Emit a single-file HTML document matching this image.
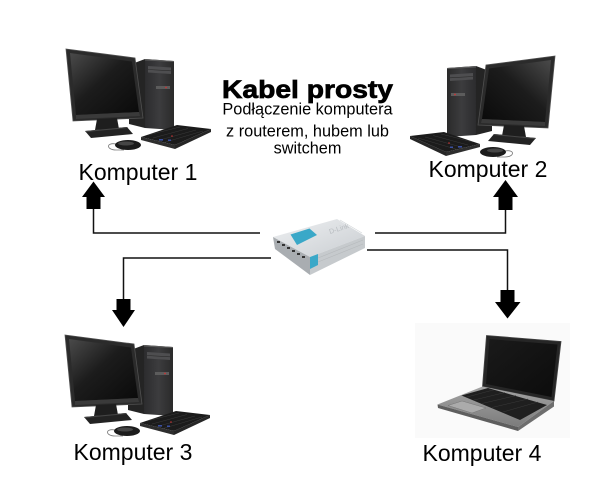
<!DOCTYPE html>
<html>
<head>
<meta charset="utf-8">
<style>
  html, body { margin:0; padding:0; background:#ffffff; }
  svg { display:block; }
  text { font-family: "Liberation Sans", Arial, sans-serif; fill:#000; }
</style>
</head>
<body>
<svg width="600" height="500" viewBox="0 0 600 500" xmlns="http://www.w3.org/2000/svg">
  <defs>
    <linearGradient id="scr" x1="0" y1="0" x2="1" y2="1">
      <stop offset="0" stop-color="#4a4a4a"/>
      <stop offset="0.45" stop-color="#1c1c1c"/>
      <stop offset="1" stop-color="#0a0a0a"/>
    </linearGradient>
    <linearGradient id="tw" x1="0" y1="0" x2="1" y2="0">
      <stop offset="0" stop-color="#2c2c2e"/>
      <stop offset="0.5" stop-color="#3c3c3e"/>
      <stop offset="1" stop-color="#2a2a2a"/>
    </linearGradient>
    <linearGradient id="lapscr" x1="0" y1="0" x2="1" y2="1">
      <stop offset="0" stop-color="#1a1a1a"/>
      <stop offset="1" stop-color="#0c0c0c"/>
    </linearGradient>
    <linearGradient id="lapbase" x1="0" y1="0" x2="0" y2="1">
      <stop offset="0" stop-color="#a4a4a4"/>
      <stop offset="1" stop-color="#7c7c7c"/>
    </linearGradient>
    <linearGradient id="swtop" x1="0" y1="0" x2="1" y2="1">
      <stop offset="0" stop-color="#eef0f2"/>
      <stop offset="1" stop-color="#c9cdd1"/>
    </linearGradient>
  </defs>

  <!-- ===== Computer 1 ===== -->
  <g id="pc1">
    <!-- tower side -->
    <polygon points="129,65 145,59 145,128 129,124" fill="#242424"/>
    <!-- tower front -->
    <polygon points="145,59 174,61 174,130 145,128" fill="url(#tw)"/>
    <polygon points="145,59 174,61 174,62 145,60.5" fill="#5a5a5a"/>
    <polygon points="148,66 171,67.5 171,74 148,72.5" fill="#4e4e50"/>
    <line x1="148" y1="69.5" x2="171" y2="70.8" stroke="#2a2a2a" stroke-width="0.6"/>
    <rect x="156" y="86" width="14" height="3" fill="#5c5c5c"/>
    <circle cx="166" cy="87.5" r="0.9" fill="#cc3333"/>
    <!-- monitor -->
    <polygon points="66,49 135,58 143,118 73,121" fill="#2b2b2b" stroke="#505050" stroke-width="0.8"/>
    <polygon points="70,53 132,61.5 139,112 76,115" fill="url(#scr)"/>
    <polygon points="76,115 139,112 140,116 76,119" fill="#3a3a3a"/>
    <!-- stand -->
    <polygon points="97,119 117,118 119,129 95,130" fill="#1e1e1e"/>
    <polygon points="85,131 127,127 133,134 91,138" fill="#232323"/>
    <polygon points="85,131 127,127 128,128 86,132" fill="#444"/>
    <!-- mouse -->
    <path d="M116,144 C106,142 106,150 116,150 L124,150" stroke="#777" fill="none" stroke-width="0.8"/>
    <ellipse cx="128" cy="145" rx="13" ry="5" fill="#1c1c1c"/>
    <ellipse cx="126" cy="143.5" rx="8" ry="2" fill="#454545"/>
    <!-- keyboard -->
    <polygon points="141,137 177,125 211,129 175,145" fill="#1b1b1b"/>
    <polygon points="141,137 175,145 175,149 141,140" fill="#2e2e2e"/>
    <polygon points="175,145 211,129 211,132 175,149" fill="#262626"/>
    <g stroke="#3a3a3a" stroke-width="0.5">
      <line x1="148" y1="135" x2="180" y2="127"/>
      <line x1="153" y1="138" x2="188" y2="128.5"/>
      <line x1="158" y1="140.5" x2="196" y2="130"/>
      <line x1="164" y1="142.5" x2="203" y2="131"/>
    </g>
    <rect x="159" y="139" width="4" height="1.6" fill="#3a4fa0"/>
    <rect x="168" y="139.5" width="3" height="1.5" fill="#3a4fa0"/>
    <circle cx="172" cy="136" r="0.8" fill="#c33"/>
  </g>

  <!-- ===== Computer 2 (mirrored) ===== -->
  <g transform="translate(621,7) scale(-1,1)">
    <polygon points="129,65 145,59 145,128 129,124" fill="#242424"/>
    <polygon points="145,59 174,61 174,130 145,128" fill="url(#tw)"/>
    <polygon points="145,59 174,61 174,62 145,60.5" fill="#5a5a5a"/>
    <polygon points="148,66 171,67.5 171,74 148,72.5" fill="#4e4e50"/>
    <line x1="148" y1="69.5" x2="171" y2="70.8" stroke="#2a2a2a" stroke-width="0.6"/>
    <rect x="156" y="86" width="14" height="3" fill="#5c5c5c"/>
    <circle cx="166" cy="87.5" r="0.9" fill="#cc3333"/>
    <polygon points="66,49 135,58 143,118 73,121" fill="#2b2b2b" stroke="#505050" stroke-width="0.8"/>
    <polygon points="70,53 132,61.5 139,112 76,115" fill="url(#scr)"/>
    <polygon points="76,115 139,112 140,116 76,119" fill="#3a3a3a"/>
    <polygon points="97,119 117,118 119,129 95,130" fill="#1e1e1e"/>
    <polygon points="85,131 127,127 133,134 91,138" fill="#232323"/>
    <polygon points="85,131 127,127 128,128 86,132" fill="#444"/>
    <path d="M116,144 C106,142 106,150 116,150 L124,150" stroke="#777" fill="none" stroke-width="0.8"/>
    <ellipse cx="128" cy="145" rx="13" ry="5" fill="#1c1c1c"/>
    <ellipse cx="126" cy="143.5" rx="8" ry="2" fill="#454545"/>
    <polygon points="141,137 177,125 211,129 175,145" fill="#1b1b1b"/>
    <polygon points="141,137 175,145 175,149 141,140" fill="#2e2e2e"/>
    <polygon points="175,145 211,129 211,132 175,149" fill="#262626"/>
    <g stroke="#3a3a3a" stroke-width="0.5">
      <line x1="148" y1="135" x2="180" y2="127"/>
      <line x1="153" y1="138" x2="188" y2="128.5"/>
      <line x1="158" y1="140.5" x2="196" y2="130"/>
      <line x1="164" y1="142.5" x2="203" y2="131"/>
    </g>
    <rect x="159" y="139" width="4" height="1.6" fill="#3a4fa0"/>
    <rect x="168" y="139.5" width="3" height="1.5" fill="#3a4fa0"/>
    <circle cx="172" cy="136" r="0.8" fill="#c33"/>
  </g>

  <!-- ===== Computer 3 ===== -->
  <g transform="translate(-1,286)">
    <polygon points="129,65 145,59 145,128 129,124" fill="#242424"/>
    <polygon points="145,59 174,61 174,130 145,128" fill="url(#tw)"/>
    <polygon points="145,59 174,61 174,62 145,60.5" fill="#5a5a5a"/>
    <polygon points="148,66 171,67.5 171,74 148,72.5" fill="#4e4e50"/>
    <line x1="148" y1="69.5" x2="171" y2="70.8" stroke="#2a2a2a" stroke-width="0.6"/>
    <rect x="156" y="86" width="14" height="3" fill="#5c5c5c"/>
    <circle cx="166" cy="87.5" r="0.9" fill="#cc3333"/>
    <polygon points="66,49 135,58 143,118 73,121" fill="#2b2b2b" stroke="#505050" stroke-width="0.8"/>
    <polygon points="70,53 132,61.5 139,112 76,115" fill="url(#scr)"/>
    <polygon points="76,115 139,112 140,116 76,119" fill="#3a3a3a"/>
    <polygon points="97,119 117,118 119,129 95,130" fill="#1e1e1e"/>
    <polygon points="85,131 127,127 133,134 91,138" fill="#232323"/>
    <polygon points="85,131 127,127 128,128 86,132" fill="#444"/>
    <path d="M116,144 C106,142 106,150 116,150 L124,150" stroke="#777" fill="none" stroke-width="0.8"/>
    <ellipse cx="128" cy="145" rx="13" ry="5" fill="#1c1c1c"/>
    <ellipse cx="126" cy="143.5" rx="8" ry="2" fill="#454545"/>
    <polygon points="141,137 177,125 211,129 175,145" fill="#1b1b1b"/>
    <polygon points="141,137 175,145 175,149 141,140" fill="#2e2e2e"/>
    <polygon points="175,145 211,129 211,132 175,149" fill="#262626"/>
    <g stroke="#3a3a3a" stroke-width="0.5">
      <line x1="148" y1="135" x2="180" y2="127"/>
      <line x1="153" y1="138" x2="188" y2="128.5"/>
      <line x1="158" y1="140.5" x2="196" y2="130"/>
      <line x1="164" y1="142.5" x2="203" y2="131"/>
    </g>
    <rect x="159" y="139" width="4" height="1.6" fill="#3a4fa0"/>
    <rect x="168" y="139.5" width="3" height="1.5" fill="#3a4fa0"/>
    <circle cx="172" cy="136" r="0.8" fill="#c33"/>
  </g>

  <!-- ===== Laptop (Computer 4) ===== -->
  <rect x="415" y="323" width="155" height="115" fill="#fafafa"/>
  <polygon points="486.5,335.5 561,341.5 554,401 482.5,386.5" fill="#262626" stroke="#444" stroke-width="0.8"/>
  <polygon points="489.5,339 557.5,344.5 551.5,397 486,384" fill="url(#lapscr)"/>
  <polygon points="482.5,386.5 554,401 518,427 437.5,404.5" fill="url(#lapbase)"/>
  <polygon points="437.5,404.5 518,427 518,431 438,408" fill="#5e5e5e"/>
  <polygon points="518,427 554,401 554,406.5 518,431" fill="#6e6e6e"/>
  <polygon points="461.5,395.5 488,388 547,405 520,420" fill="#1f1f1f"/>
  <g stroke="#3a3a3a" stroke-width="0.5">
    <line x1="467" y1="397" x2="494" y2="389.8"/>
    <line x1="474" y1="400" x2="505" y2="392.5"/>
    <line x1="482" y1="403.5" x2="516" y2="395.6"/>
    <line x1="492" y1="407.5" x2="528" y2="399"/>
    <line x1="503" y1="412" x2="538" y2="402"/>
  </g>
  <polygon points="448,405.5 462,401 486,408 472,413" fill="#ababab" stroke="#777" stroke-width="0.5"/>

  <!-- ===== Switch ===== -->
  <polygon points="273,237 337,219 365,236 310,257" fill="url(#swtop)"/>
  <polygon points="273,237 310,257 310,275 275,249" fill="#a9adb1"/>
  <polygon points="310,257 365,236 365,248 310,275" fill="#c6cacd"/>
  <g stroke="#b5b9bc" stroke-width="0.6">
    <line x1="318" y1="258" x2="363" y2="240"/>
    <line x1="318" y1="262" x2="363" y2="244"/>
  </g>
  <polygon points="290.5,234.5 309.5,228.5 317,235 297,245" fill="#3aa8c8"/>
  <polygon points="310,257 318,254 318,265 310,269" fill="#3aa8c8"/>
  <g fill="#333">
    <rect x="277" y="241" width="3" height="2"/>
    <rect x="282" y="244" width="3" height="2"/>
    <rect x="287" y="247" width="3" height="2"/>
    <rect x="292" y="250" width="3" height="2"/>
    <rect x="297" y="253" width="3" height="2"/>
    <rect x="302" y="256" width="3" height="2"/>
  </g>
  <text x="330" y="234" font-size="7" fill="#b8bcc0" style="fill:#b8bcc0" transform="rotate(-18 330 234)">D-Link</text>
  <g stroke="#d0d4d7" stroke-width="0.6">
    <line x1="340" y1="220" x2="362" y2="233"/>
  </g>

  <!-- ===== Connectors ===== -->
  <g fill="none" stroke="#111" stroke-width="1.5">
    <polyline points="93.5,209 93.5,233 260,233"/>
    <polyline points="375,233 505.5,233 505.5,210"/>
    <polyline points="271,258 123.5,258 123.5,299"/>
    <polyline points="367,250 507.5,250 507.5,290"/>
  </g>

  <!-- ===== Arrows ===== -->
  <polygon points="93.5,181.5 105,197 100.5,197 100.5,209 86.5,209 86.5,197 82,197" fill="#000"/>
  <polygon points="505.5,180 518,197 512.5,197 512.5,210 498.5,210 498.5,197 493,197" fill="#000"/>
  <polygon points="116.5,299 130.5,299 130.5,310 135,310 123.5,327 112,310 116.5,310" fill="#000"/>
  <polygon points="500.5,290 514.5,290 514.5,302 520.5,302 507.5,318.5 495,302 500.5,302" fill="#000"/>

  <!-- ===== Text ===== -->
  <text x="307.5" y="98" font-size="25" font-weight="bold" text-anchor="middle"
        stroke="#000" stroke-width="0.7"
        transform="translate(307.5,0) scale(1.13,1) translate(-307.5,0)">Kabel prosty</text>
  <text x="307.5" y="114.5" font-size="16.3" text-anchor="middle">Podłączenie komputera</text>
  <text x="307.5" y="136.5" font-size="16.3" text-anchor="middle">z routerem, hubem lub</text>
  <text x="307.5" y="153.5" font-size="16.3" text-anchor="middle">switchem</text>

  <text x="78.5" y="180" font-size="23">Komputer 1</text>
  <text x="428.5" y="177" font-size="23">Komputer 2</text>
  <text x="73.5" y="460" font-size="23">Komputer 3</text>
  <text x="422.5" y="461" font-size="23">Komputer 4</text>
</svg>
</body>
</html>
